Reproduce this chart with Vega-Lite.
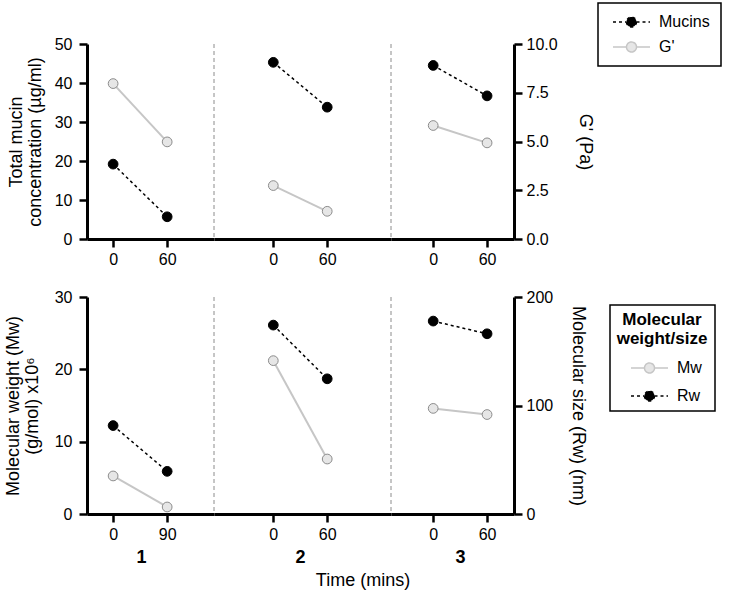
{
  "$schema": "https://vega.github.io/schema/vega-lite/v6.json",
  "padding": {"left": 4, "top": 2, "right": 4, "bottom": 4},
  "background": "white",
  "config": {
    "font": "Liberation Sans",
    "view": {"stroke": null},
    "axis": {
      "domainColor": "black", "domainWidth": 3, "tickColor": "black", "tickWidth": 2.5, "tickSize": 8,
      "labelFontSize": 16, "labelColor": "black", "labelPadding": 5, "titleFontSize": 18,
      "titleFontWeight": "normal", "titleColor": "black", "grid": false, "titleLineHeight": 19
    },
    "legend": {"labelFontSize": 16, "labelColor": "black", "titleColor": "black"},
    "title": {"fontSize": 18, "fontWeight": "normal", "color": "black"}
  },
  "title": {"text": "Time (mins)", "orient": "bottom", "anchor": "middle", "offset": 6},
  "datasets": {
    "top": [
      {"group": "1", "time": 0, "series": "Mucins", "value": 19.2},
      {"group": "1", "time": 60, "series": "Mucins", "value": 5.7},
      {"group": "1", "time": 0, "series": "G'", "value": 7.97},
      {"group": "1", "time": 60, "series": "G'", "value": 4.98},
      {"group": "2", "time": 0, "series": "Mucins", "value": 45.3},
      {"group": "2", "time": 60, "series": "Mucins", "value": 33.8},
      {"group": "2", "time": 0, "series": "G'", "value": 2.74},
      {"group": "2", "time": 60, "series": "G'", "value": 1.42},
      {"group": "3", "time": 0, "series": "Mucins", "value": 44.5},
      {"group": "3", "time": 60, "series": "Mucins", "value": 36.7},
      {"group": "3", "time": 0, "series": "G'", "value": 5.82},
      {"group": "3", "time": 60, "series": "G'", "value": 4.93}
    ],
    "bottom": [
      {"group": "1", "time": 0, "series": "Mw", "value": 5.26},
      {"group": "1", "time": 90, "series": "Mw", "value": 0.97},
      {"group": "1", "time": 0, "series": "Rw", "value": 81.5},
      {"group": "1", "time": 90, "series": "Rw", "value": 39.3},
      {"group": "2", "time": 0, "series": "Mw", "value": 21.2},
      {"group": "2", "time": 60, "series": "Mw", "value": 7.6},
      {"group": "2", "time": 0, "series": "Rw", "value": 174.1},
      {"group": "2", "time": 60, "series": "Rw", "value": 124.6},
      {"group": "3", "time": 0, "series": "Mw", "value": 14.6},
      {"group": "3", "time": 60, "series": "Mw", "value": 13.75},
      {"group": "3", "time": 0, "series": "Rw", "value": 177.8},
      {"group": "3", "time": 60, "series": "Rw", "value": 166.1}
    ]
  },
  "columns": 3,
  "spacing": {"row": 58, "column": 0},
  "bounds": "flush",
  "align": "each",
  "resolve": {"scale": {"stroke": "independent"}},
  "concat": [
    {
      "width": 127, "height": 195,
      "data": {"name": "top"},
      "encoding": {"x": {"field": "time", "type": "quantitative", "scale": {"domain": [-29, 112], "nice": false}, "axis": {"values": [0, 60], "title": null, "labelPadding": 4}}},
      "layer": [
        {
          "transform": [{"filter": "datum.group == '1' && datum.series == 'Mucins'"}],
          "encoding": {"y": {"field": "value", "type": "quantitative", "scale": {"domain": [0, 50], "nice": false}, "axis": {"orient": "left", "values": [0, 10, 20, 30, 40, 50], "labelPadding": 7, "titlePadding": 10, "title": ["Total mucin", "concentration  (µg/ml)"]}}},
          "layer": [
            {"mark": {"type": "line", "stroke": "black", "strokeWidth": 1.5, "strokeDash": [3, 3]}},
            {"mark": {"type": "circle", "size": 95, "fill": "black", "stroke": "black", "strokeWidth": 1, "opacity": 1}}
          ]
        },
        {
          "transform": [{"filter": "datum.group == '1' && datum.series == \"G'\""}],
          "encoding": {"y": {"field": "value", "type": "quantitative", "scale": {"domain": [0, 10], "nice": false}, "axis": null}},
          "layer": [
            {"mark": {"type": "line", "stroke": "#c6c6c6", "strokeWidth": 2}},
            {"mark": {"type": "circle", "size": 95, "fill": "#e6e6e6", "stroke": "#8c8c8c", "strokeWidth": 1, "opacity": 1}}
          ]
        }
      ],
      "resolve": {"scale": {"y": "independent"}}
    },
    {
      "width": 177, "height": 195,
      "data": {"name": "top"},
      "encoding": {"x": {"field": "time", "type": "quantitative", "scale": {"domain": [-66, 131], "nice": false}, "axis": {"values": [0, 60], "title": null, "labelPadding": 4}}},
      "layer": [
        {
          "transform": [{"filter": "datum.group == '2' && datum.series == 'Mucins' && datum.time == 0"}],
          "mark": {"type": "rule", "stroke": "#8c8c8c", "strokeWidth": 1, "strokeDash": [4, 3]},
          "encoding": {"x": {"datum": -66}}
        },
        {
          "transform": [{"filter": "datum.group == '2' && datum.series == 'Mucins'"}],
          "encoding": {"y": {"field": "value", "type": "quantitative", "scale": {"domain": [0, 50], "nice": false}, "axis": null}},
          "layer": [
            {"mark": {"type": "line", "stroke": "black", "strokeWidth": 1.5, "strokeDash": [3, 3]}},
            {"mark": {"type": "circle", "size": 95, "fill": "black", "stroke": "black", "strokeWidth": 1, "opacity": 1}}
          ]
        },
        {
          "transform": [{"filter": "datum.group == '2' && datum.series == \"G'\""}],
          "encoding": {"y": {"field": "value", "type": "quantitative", "scale": {"domain": [0, 10], "nice": false}, "axis": null}},
          "layer": [
            {"mark": {"type": "line", "stroke": "#c6c6c6", "strokeWidth": 2}},
            {"mark": {"type": "circle", "size": 95, "fill": "#e6e6e6", "stroke": "#8c8c8c", "strokeWidth": 1, "opacity": 1}}
          ]
        }
      ],
      "resolve": {"scale": {"y": "independent"}}
    },
    {
      "width": 123, "height": 195,
      "data": {"name": "top"},
      "encoding": {"x": {"field": "time", "type": "quantitative", "scale": {"domain": [-47, 90], "nice": false}, "axis": {"values": [0, 60], "title": null, "labelPadding": 4}}},
      "layer": [
        {
          "transform": [{"filter": "datum.group == '3' && datum.series == 'Mucins' && datum.time == 0"}],
          "mark": {"type": "rule", "stroke": "#8c8c8c", "strokeWidth": 1, "strokeDash": [4, 3]},
          "encoding": {"x": {"datum": -47}}
        },
        {
          "transform": [{"filter": "datum.group == '3' && datum.series == 'Mucins'"}],
          "encoding": {"y": {"field": "value", "type": "quantitative", "scale": {"domain": [0, 50], "nice": false}, "axis": null}},
          "layer": [
            {
              "mark": {"type": "line", "strokeWidth": 1.5, "strokeDash": [3, 3]},
              "encoding": {
                "stroke": {
                  "field": "series", "type": "nominal",
                  "scale": {"domain": ["Mucins", "G'"], "range": ["black", "#c6c6c6"]},
                  "legend": {
                    "title": null, "orient": "none", "legendX": 207, "legendY": -41,
                    "symbolType": "M-3.7,0L-1,0M1,0L3.7,0M1,0C1,0.552,0.552,1,0,1C-0.552,1,-1,0.552,-1,0C-1,-0.552,-0.552,-1,0,-1C0.552,-1,1,-0.552,1,0Z",
                    "symbolSize": 100, "symbolStrokeWidth": 1.5, "symbolOffset": 14.5, "labelOffset": 19.5,
                    "padding": 11, "rowPadding": 9, "strokeColor": "black", "fillColor": "white",
                    "labelFontSize": 16,
                    "encode": {
                      "symbols": {"update": {
                        "fill": {"signal": "datum.value == 'Mucins' ? 'black' : '#e6e6e6'"},
                        "strokeDash": {"signal": "datum.value == 'Mucins' ? [3, 3] : [1, 0]"},
                        "opacity": {"value": 1}
                      }},
                      "legend": {"update": {"strokeWidth": {"value": 1.5}}}
                    }
                  }
                }
              }
            },
            {"mark": {"type": "circle", "size": 95, "fill": "black", "stroke": "black", "strokeWidth": 1, "opacity": 1}}
          ]
        },
        {
          "transform": [{"filter": "datum.group == '3' && datum.series == \"G'\""}],
          "encoding": {"y": {"field": "value", "type": "quantitative", "scale": {"domain": [0, 10], "nice": false}, "axis": {"orient": "right", "values": [0, 2.5, 5, 7.5, 10], "format": ".1f", "labelPadding": 4, "titlePadding": 18, "title": "G' (Pa)"}}},
          "layer": [
            {"mark": {"type": "line", "stroke": "#c6c6c6", "strokeWidth": 2}},
            {"mark": {"type": "circle", "size": 95, "fill": "#e6e6e6", "stroke": "#8c8c8c", "strokeWidth": 1, "opacity": 1}}
          ]
        }
      ],
      "resolve": {"scale": {"y": "independent"}}
    },
    {
      "width": 127, "height": 217,
      "data": {"name": "bottom"},
      "encoding": {"x": {"field": "time", "type": "quantitative", "scale": {"domain": [-43.5, 168], "nice": false}, "axis": {"values": [0, 90], "title": "1", "titleFontWeight": "bold", "titleX": 54, "titlePadding": 6, "labelPadding": 4}}},
      "layer": [
        {
          "transform": [{"filter": "datum.group == '1' && datum.series == 'Mw'"}],
          "encoding": {"y": {"field": "value", "type": "quantitative", "scale": {"domain": [0, 30], "nice": false}, "axis": {"orient": "left", "values": [0, 10, 20, 30], "labelPadding": 7, "titlePadding": 13, "title": ["Molecular weight (Mw)", "(g/mol) x10⁶"]}}},
          "layer": [
            {"mark": {"type": "line", "stroke": "#c6c6c6", "strokeWidth": 2}},
            {"mark": {"type": "circle", "size": 95, "fill": "#e6e6e6", "stroke": "#8c8c8c", "strokeWidth": 1, "opacity": 1}}
          ]
        },
        {
          "transform": [{"filter": "datum.group == '1' && datum.series == 'Rw'"}],
          "encoding": {"y": {"field": "value", "type": "quantitative", "scale": {"domain": [0, 200], "nice": false}, "axis": null}},
          "layer": [
            {"mark": {"type": "line", "stroke": "black", "strokeWidth": 1.5, "strokeDash": [3, 3]}},
            {"mark": {"type": "circle", "size": 95, "fill": "black", "stroke": "black", "strokeWidth": 1, "opacity": 1}}
          ]
        }
      ],
      "resolve": {"scale": {"y": "independent"}}
    },
    {
      "width": 177, "height": 217,
      "data": {"name": "bottom"},
      "encoding": {"x": {"field": "time", "type": "quantitative", "scale": {"domain": [-66, 131], "nice": false}, "axis": {"values": [0, 60], "title": "2", "titleFontWeight": "bold", "titleX": 86, "titlePadding": 6, "labelPadding": 4}}},
      "layer": [
        {
          "transform": [{"filter": "datum.group == '2' && datum.series == 'Mw' && datum.time == 0"}],
          "mark": {"type": "rule", "stroke": "#8c8c8c", "strokeWidth": 1, "strokeDash": [4, 3]},
          "encoding": {"x": {"datum": -66}}
        },
        {
          "transform": [{"filter": "datum.group == '2' && datum.series == 'Mw'"}],
          "encoding": {"y": {"field": "value", "type": "quantitative", "scale": {"domain": [0, 30], "nice": false}, "axis": null}},
          "layer": [
            {"mark": {"type": "line", "stroke": "#c6c6c6", "strokeWidth": 2}},
            {"mark": {"type": "circle", "size": 95, "fill": "#e6e6e6", "stroke": "#8c8c8c", "strokeWidth": 1, "opacity": 1}}
          ]
        },
        {
          "transform": [{"filter": "datum.group == '2' && datum.series == 'Rw'"}],
          "encoding": {"y": {"field": "value", "type": "quantitative", "scale": {"domain": [0, 200], "nice": false}, "axis": null}},
          "layer": [
            {"mark": {"type": "line", "stroke": "black", "strokeWidth": 1.5, "strokeDash": [3, 3]}},
            {"mark": {"type": "circle", "size": 95, "fill": "black", "stroke": "black", "strokeWidth": 1, "opacity": 1}}
          ]
        }
      ],
      "resolve": {"scale": {"y": "independent"}}
    },
    {
      "width": 123, "height": 217,
      "data": {"name": "bottom"},
      "encoding": {"x": {"field": "time", "type": "quantitative", "scale": {"domain": [-47, 90], "nice": false}, "axis": {"values": [0, 60], "title": "3", "titleFontWeight": "bold", "titleX": 69, "titlePadding": 6, "labelPadding": 4}}},
      "layer": [
        {
          "transform": [{"filter": "datum.group == '3' && datum.series == 'Mw' && datum.time == 0"}],
          "mark": {"type": "rule", "stroke": "#8c8c8c", "strokeWidth": 1, "strokeDash": [4, 3]},
          "encoding": {"x": {"datum": -47}}
        },
        {
          "transform": [{"filter": "datum.group == '3' && datum.series == 'Mw'"}],
          "encoding": {"y": {"field": "value", "type": "quantitative", "scale": {"domain": [0, 30], "nice": false}, "axis": null}},
          "layer": [
            {
              "mark": {"type": "line", "strokeWidth": 2},
              "encoding": {
                "stroke": {
                  "field": "series", "type": "nominal",
                  "scale": {"domain": ["Mw", "Rw"], "range": ["#c6c6c6", "black"]},
                  "legend": {
                    "title": ["Molecular", "weight/size"],
                    "titleFontSize": 17, "titleFontWeight": "bold", "titleAlign": "center", "titleAnchor": "middle",
                    "titleLineHeight": 19, "titlePadding": 12,
                    "orient": "none", "legendX": 219, "legendY": 8,
                    "symbolType": "M-3.7,0L-1,0M1,0L3.7,0M1,0C1,0.552,0.552,1,0,1C-0.552,1,-1,0.552,-1,0C-1,-0.552,-0.552,-1,0,-1C0.552,-1,1,-0.552,1,0Z",
                    "symbolSize": 100, "symbolStrokeWidth": 1.5, "symbolOffset": 18.5, "labelOffset": 19.5,
                    "padding": 7, "rowPadding": 12, "strokeColor": "black", "fillColor": "white",
                    "labelFontSize": 16,
                    "encode": {
                      "symbols": {"update": {
                        "fill": {"signal": "datum.value == 'Rw' ? 'black' : '#e6e6e6'"},
                        "strokeDash": {"signal": "datum.value == 'Rw' ? [3, 3] : [1, 0]"},
                        "opacity": {"value": 1}
                      }},
                      "legend": {"update": {"strokeWidth": {"value": 1.5}}}
                    }
                  }
                }
              }
            },
            {"mark": {"type": "circle", "size": 95, "fill": "#e6e6e6", "stroke": "#8c8c8c", "strokeWidth": 1, "opacity": 1}}
          ]
        },
        {
          "transform": [{"filter": "datum.group == '3' && datum.series == 'Rw'"}],
          "encoding": {"y": {"field": "value", "type": "quantitative", "scale": {"domain": [0, 200], "nice": false}, "axis": {"orient": "right", "values": [0, 100, 200], "labelPadding": 4, "titlePadding": 16, "title": "Molecular size (Rw) (nm)"}}},
          "layer": [
            {"mark": {"type": "line", "stroke": "black", "strokeWidth": 1.5, "strokeDash": [3, 3]}},
            {"mark": {"type": "circle", "size": 95, "fill": "black", "stroke": "black", "strokeWidth": 1, "opacity": 1}}
          ]
        }
      ],
      "resolve": {"scale": {"y": "independent"}}
    }
  ]
}
